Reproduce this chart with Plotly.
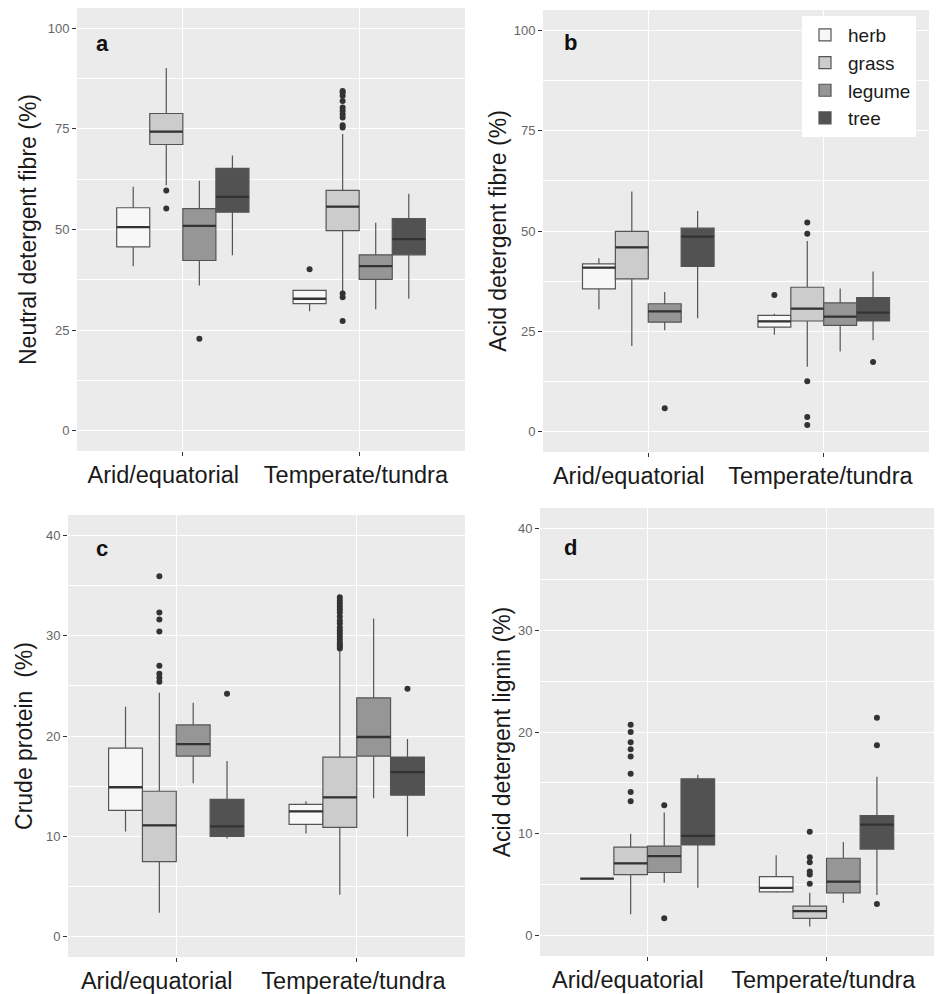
import plotly.graph_objects as go

climates = ["Arid/equatorial", "Temperate/tundra"]
climate_labels = ["Arid/equatorial" + "\u00a0" * 6, "Temperate/tundra" + "\u00a0"]
species = ["herb", "grass", "legume", "tree"]
fill_colors = ["#f7f7f7", "#cccccc", "#969696", "#525252"]

# ---- panel a: Neutral detergent fibre (%) ; rows = species, cols = climates
ndf_low = [[40.9, 29.7], [61.0, 34.6], [36.1, 30.2], [43.6, 32.8]]
ndf_q1 = [[45.7, 31.6], [71.1, 49.7], [42.3, 37.6], [54.3, 43.7]]
ndf_med = [[50.6, 32.8], [74.3, 55.7], [50.9, 40.9], [58.1, 47.6]]
ndf_q3 = [[55.4, 34.9], [78.8, 59.7], [55.2, 43.7], [65.2, 52.7]]
ndf_high = [[60.6, 34.9], [90.1, 73.7], [62.1, 51.7], [68.4, 58.9]]
ndf_out = [
    [[], [40.1]],
    [[59.7, 55.2], [75.3, 75.9, 77.8, 78.6, 79.5, 80.3, 81.9, 83.2, 84.0, 84.4, 34.1, 33.2, 27.3]],
    [[22.9], []],
    [[], []],
]

# ---- panel b: Acid detergent fibre (%)
adf_low = [[30.5, 24.2], [21.4, 16.2], [25.3, 20.0], [28.3, 22.8]]
adf_q1 = [[35.6, 26.1], [38.1, 27.6], [27.3, 26.5], [41.2, 27.6]]
adf_med = [[40.9, 27.5], [45.9, 30.7], [30.0, 28.7], [48.6, 29.7]]
adf_q3 = [[41.8, 29.0], [49.9, 36.0], [31.9, 32.1], [50.7, 33.4]]
adf_high = [[43.2, 29.4], [59.8, 47.5], [34.8, 35.7], [55.0, 39.9]]
adf_out = [
    [[], [34.1]],
    [[], [52.1, 49.3, 12.6, 3.7, 1.7]],
    [[5.9], []],
    [[], [17.4]],
]

# ---- panel c: Crude protein (%)
cp_low = [[10.5, 10.3], [2.4, 4.2], [15.3, 13.8], [9.8, 10.0]]
cp_q1 = [[12.6, 11.2], [7.5, 10.9], [18.0, 18.0], [10.0, 14.1]]
cp_med = [[14.9, 12.5], [11.1, 13.9], [19.2, 19.9], [11.0, 16.4]]
cp_q3 = [[18.8, 13.2], [14.5, 17.9], [21.1, 23.8], [13.7, 17.9]]
cp_high = [[22.9, 13.5], [24.3, 28.5], [23.3, 31.7], [17.5, 19.7]]
cp_out = [
    [[], []],
    [[35.9, 32.3, 31.6, 30.4, 27.0, 26.2, 25.8, 25.4],
     [28.7, 28.9, 29.1, 29.3, 29.6, 29.9, 30.2, 30.5, 30.8, 31.2, 31.5, 31.9, 32.3, 32.6, 32.9, 33.2, 33.5, 33.8]],
    [[], []],
    [[24.2], [24.7]],
]

# ---- panel d: Acid detergent lignin (%)
adl_low = [[5.6, 4.2], [2.1, 0.9], [5.2, 3.2], [4.7, 4.0]]
adl_q1 = [[5.6, 4.3], [6.0, 1.7], [6.2, 4.2], [8.9, 8.5]]
adl_med = [[5.6, 4.7], [7.1, 2.4], [7.8, 5.3], [9.8, 10.9]]
adl_q3 = [[5.6, 5.8], [8.7, 2.9], [8.8, 7.6], [15.4, 11.8]]
adl_high = [[5.6, 7.9], [10.0, 4.2], [12.1, 9.2], [15.8, 15.6]]
adl_out = [
    [[], []],
    [[20.7, 20.0, 19.0, 18.3, 17.6, 15.9, 14.1, 13.2], [10.2, 7.7, 7.2, 6.3, 6.0, 5.1]],
    [[12.8, 1.7], []],
    [[], [21.4, 18.7, 3.1]],
]

panels = [
    dict(low=ndf_low, q1=ndf_q1, med=ndf_med, q3=ndf_q3, high=ndf_high, out=ndf_out,
         title="Neutral detergent fibre (%)", letter="a", ticks=[0, 25, 50, 75, 100], rng=[-5, 105]),
    dict(low=adf_low, q1=adf_q1, med=adf_med, q3=adf_q3, high=adf_high, out=adf_out,
         title="Acid detergent fibre (%)", letter="b", ticks=[0, 25, 50, 75, 100], rng=[-5, 105]),
    dict(low=cp_low, q1=cp_q1, med=cp_med, q3=cp_q3, high=cp_high, out=cp_out,
         title="Crude protein  (%)", letter="c", ticks=[0, 10, 20, 30, 40], rng=[-2, 42]),
    dict(low=adl_low, q1=adl_q1, med=adl_med, q3=adl_q3, high=adl_high, out=adl_out,
         title="Acid detergent lignin (%)", letter="d", ticks=[0, 10, 20, 30, 40], rng=[-2, 42]),
]

W, H = 936, 994
# plot areas in pixels: (left, right, top, bottom)
areas = [(77, 465, 8, 451), (543, 929, 10, 452), (68, 465, 515, 957), (540, 934, 508, 956)]
title_standoff = [4, 0, 6, 0]
letter_px = [(102, 43), (570, 43), (102, 548), (570, 547)]

FONT = "Liberation Sans, Arial, sans-serif"
OUTLINE = "#555555"
fig = go.Figure()
layout = dict(
    width=W, height=H, margin=dict(l=0, r=0, t=0, b=0, autoexpand=False),
    paper_bgcolor="white", plot_bgcolor="#ebebeb",
    boxmode="group", boxgap=0.25, boxgroupgap=0,
    font=dict(family=FONT, color="#1a1a1a"),
    showlegend=True,
    legend=dict(x=802 / W, y=1 - 16 / H, xanchor="left", yanchor="top",
                bgcolor="white", font=dict(size=19, color="#1a1a1a"),
                tracegroupgap=0, itemwidth=36),
    annotations=[],
)

for p, (panel, area) in enumerate(zip(panels, areas)):
    sfx = "" if p == 0 else str(p + 1)
    xa, ya = "x" + sfx, "y" + sfx
    l, r, t, b = area
    for s, name in enumerate(species):
        # sample points per box: the median (hidden, inside the box) plus the outliers
        samples = [[panel["med"][s][c]] + panel["out"][s][c] for c in range(len(climates))]
        fig.add_trace(go.Box(
            x=climates,
            y=samples,
            q1=panel["q1"][s], median=panel["med"][s], q3=panel["q3"][s],
            lowerfence=panel["low"][s], upperfence=panel["high"][s],
            name=name, legendgroup=name, showlegend=(p == 0),
            offsetgroup=name,
            fillcolor=fill_colors[s],
            line=dict(color=OUTLINE, width=1.2),
            whiskerwidth=0,
            boxpoints="outliers", jitter=0, pointpos=0,
            marker=dict(color="#333333", size=6, line=dict(width=0)),
            xaxis=xa, yaxis=ya, hoverinfo="skip",
        ))
    # thicker median bars, drawn as flat boxes in the same offset groups
    for s, name in enumerate(species):
        fig.add_trace(go.Box(
            x=climates,
            y=[[v] for v in panel["med"][s]],
            q1=panel["med"][s], median=panel["med"][s], q3=panel["med"][s],
            lowerfence=panel["med"][s], upperfence=panel["med"][s],
            name=name, legendgroup=name, showlegend=False,
            offsetgroup=name, fillcolor="rgba(0,0,0,0)",
            line=dict(color="#333333", width=2.3),
            whiskerwidth=0, boxpoints=False,
            xaxis=xa, yaxis=ya, hoverinfo="skip",
        ))
    layout["xaxis" + sfx] = dict(
        domain=[l / W, r / W], anchor=ya, type="category", automargin=False,
        categoryorder="array", categoryarray=climates, range=[-0.6, 1.6],
        tickmode="array", tickvals=climates, ticktext=climate_labels, tickangle=0,
        showgrid=True, gridcolor="white", gridwidth=1.2, zeroline=False,
        ticks="outside", ticklen=4, tickcolor="#333333", ticklabelstandoff=-1,
        tickfont=dict(size=23.5, color="#1a1a1a"),
    )
    layout["yaxis" + sfx] = dict(
        domain=[1 - b / H, 1 - t / H], anchor=xa, range=panel["rng"], automargin=False,
        tickvals=panel["ticks"], showgrid=True, gridcolor="white", gridwidth=1.2,
        zeroline=False, ticks="outside", ticklen=4, tickcolor="#333333",
        tickfont=dict(size=13, color="#666666"),
        minor=dict(dtick=(panel["ticks"][1] - panel["ticks"][0]) / 2, showgrid=True,
                   gridcolor="white", gridwidth=0.6),
        title=dict(text=panel["title"], font=dict(size=23, color="#1a1a1a"),
                   standoff=title_standoff[p]),
    )
    lx, ly = letter_px[p]
    layout["annotations"].append(dict(
        text="<b>" + panel["letter"] + "</b>", xref=xa + " domain", yref=ya + " domain",
        x=(lx - l) / (r - l), y=1 - (ly - t) / (b - t), xanchor="center", yanchor="middle",
        showarrow=False, font=dict(size=22, color="#111111"),
    ))

fig.update_layout(**layout)
fig.write_html("out.html", config={"displayModeBar": False},
               post_script="document.body.style.margin='0';document.body.style.overflow='hidden';")
